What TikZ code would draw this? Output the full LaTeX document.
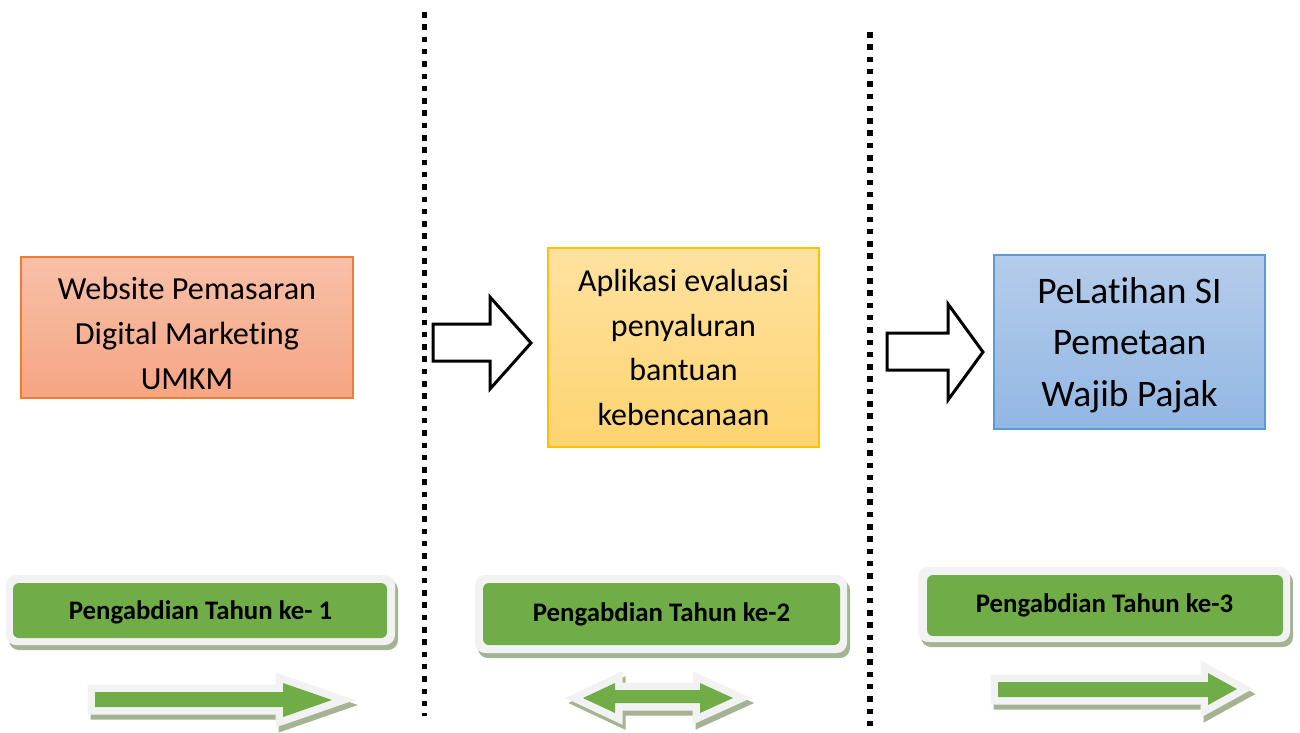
\documentclass[tikz,border=0pt]{standalone}
\usepackage{fontspec}
\setmainfont{Carlito}[Ligatures={NoCommon}]
\definecolor{gr}{HTML}{70AD47}
\definecolor{lt}{HTML}{F2F2F2}
\definecolor{sh}{HTML}{A4B391}
\definecolor{orb}{HTML}{ED7D31}
\definecolor{ort}{RGB}{248,192,168}
\definecolor{orbt}{RGB}{245,165,130}
\definecolor{yeb}{HTML}{FFC000}
\definecolor{yet}{RGB}{255,226,160}
\definecolor{yebt}{RGB}{255,212,112}
\definecolor{blb}{HTML}{5B9BD5}
\definecolor{blt}{RGB}{181,204,235}
\definecolor{blbt}{RGB}{146,183,227}
\tikzset{
  dotline/.style={line width=5.5pt, dash pattern=on 5.5pt off 6.8pt, black},
  boxbase/.style={inner sep=0pt, line width=1.1pt},
  boxA/.style={boxbase, draw=orb, top color=ort, bottom color=orbt, minimum width=332pt, minimum height=141pt},
  boxB/.style={boxbase, draw=yeb, top color=yet, bottom color=yebt, minimum width=271pt, minimum height=199pt},
  boxC/.style={boxbase, draw=blb, top color=blt, bottom color=blbt, minimum width=271pt, minimum height=174pt},
  txtA/.style={inner sep=0pt, align=center, font=\fontsize{32.2}{45}\selectfont},
  txtB/.style={inner sep=0pt, align=center, font=\fontsize{32}{44.7}\selectfont},
  txtC/.style={inner sep=0pt, align=center, font=\fontsize{37.5}{51.5}\selectfont},
  wa/.style={draw=black, fill=white, line width=3pt, line join=miter},
  lblshadow/.style={fill=sh, rounded corners=10pt},
  lblouter/.style={fill=lt, rounded corners=10pt},
  lbl/.style={fill=gr, rounded corners=6pt, inner sep=0pt},
  lbltxt/.style={inner sep=0pt, font=\fontsize{26.8}{30}\selectfont\bfseries},
  gshadow/.style={fill=sh, draw=sh, line width=15pt, line join=miter},
  gouter/.style={fill=lt, draw=lt, line width=15pt, line join=miter},
  ginner/.style={fill=gr},
  gaA/.style={insert path={(95,692) -- (283,692) -- (283,683) -- (332,700) -- (283,717) -- (283,707) -- (95,707) -- cycle}},
  gaB/.style={insert path={(583,698) -- (615,683) -- (615,690) -- (700,690) -- (700,683) -- (733,698) -- (700,713) -- (700,703) -- (615,703) -- (615,713) -- cycle}},
  gaC/.style={insert path={(998,682) -- (1208,682) -- (1208,673) -- (1237,689) -- (1208,705) -- (1208,697) -- (998,697) -- cycle}},
}
\begin{document}
\begin{tikzpicture}[x=1pt,y=-1pt]
\useasboundingbox[fill=white] (0,0) rectangle (1300,732);
% dotted separators
\coordinate (d1a) at (424.5,12);
\coordinate (d1b) at (424.5,716);
\coordinate (d2a) at (870,32);
\coordinate (d2b) at (870,732);
\draw[dotline] (d1a) -- (d1b);
\draw[dotline] (d2a) -- (d2b);
% boxes
\node[boxA] (b1) at (187,327.5) {};
\node[txtA, yshift=-5.5pt] (t1) at (b1.center) {Website Pemasaran\\Digital Marketing\\UMKM};
\node[boxB] (b2) at (683.5,347.5) {};
\node[txtB] (t2) at (b2.center) {Aplikasi evaluasi\\penyaluran\\bantuan\\kebencanaan};
\node[boxC] (b3) at (1129.5,342) {};
\node[txtC, yshift=-3pt] (t3) at (b3.center) {PeLatihan SI\\Pemetaan\\Wajib Pajak};
% white block arrows
\draw[wa] (433,324) -- (490,324) -- (490,297) -- (531,343) -- (490,389) -- (490,361) -- (433,361) -- cycle;
\draw[wa] (887,333) -- (948,333) -- (948,304) -- (983,352) -- (948,400) -- (948,370) -- (887,370) -- cycle;
% label boxes
\fill[lblshadow] (9,580) rectangle (398,650);
\fill[lblouter] (6,575) rectangle (395,645);
\node[lbl, minimum width=374pt, minimum height=55pt] (l1) at (200,610.5) {};
\node[lbltxt] (lt1) at (200.5,612.5) {Pengabdian Tahun ke- 1};
\fill[lblshadow] (478,580) rectangle (850,658);
\fill[lblouter] (475,575) rectangle (847,653);
\node[lbl, minimum width=357pt, minimum height=62pt] (l2) at (661.5,614) {};
\node[lbltxt] (lt2) at (661.5,614) {Pengabdian Tahun ke-2};
\fill[lblshadow] (921,572) rectangle (1293,647);
\fill[lblouter] (918,567) rectangle (1290,642);
\node[lbl, minimum width=356pt, minimum height=61pt] (l3) at (1105,605.5) {};
\node[lbltxt] (lt3) at (1104.5,605) {Pengabdian Tahun ke-3};
% green arrows
\begin{scope}[shift={(3,5)}]
\path[gshadow, gaA];
\path[gshadow, gaB];
\path[gshadow, gaC];
\end{scope}
\path[gouter, gaA];
\path[gouter, gaB];
\path[gouter, gaC];
\path[ginner, gaA];
\path[ginner, gaB];
\path[ginner, gaC];
\end{tikzpicture}
\end{document}
